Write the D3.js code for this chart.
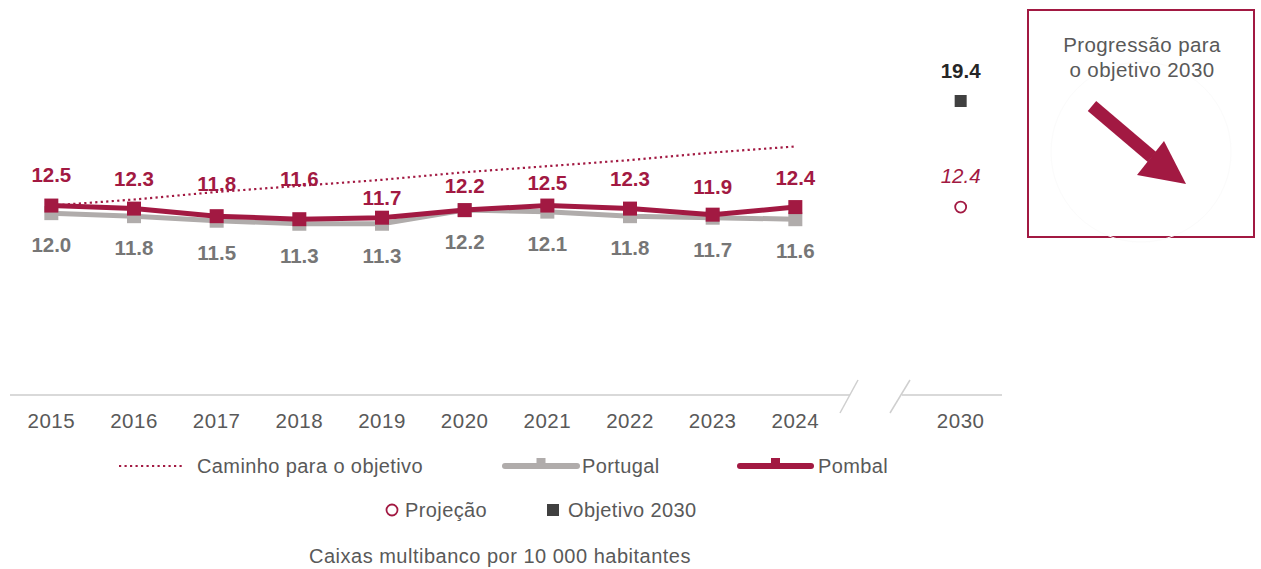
<!DOCTYPE html>
<html>
<head>
<meta charset="utf-8">
<script src="https://cdn.jsdelivr.net/npm/d3@7/dist/d3.min.js"></script>
<style>
  html, body { margin: 0; padding: 0; background: #fff; }
  svg { display: block; font-family: "Liberation Sans", Arial, sans-serif; }
</style>
</head>
<body>
<svg id="chart" width="1261" height="569"></svg>
<script>
const years = ["2015","2016","2017","2018","2019","2020","2021","2022","2023","2024"];
const slots = ["2015","2016","2017","2018","2019","2020","2021","2022","2023","2024","gap","2030"];
const pombal = [12.5, 12.3, 11.8, 11.6, 11.7, 12.2, 12.5, 12.3, 11.9, 12.4];
const portugal = [12.0, 11.8, 11.5, 11.3, 11.3, 12.2, 12.1, 11.8, 11.7, 11.6];
const pathToGoal = [12.5, 12.9, 13.4, 13.8, 14.2, 14.7, 15.1, 15.5, 16.0, 16.4];
const projection2030 = 12.4;
const goal2030 = 19.4;
const axisLabels = ["2015","2016","2017","2018","2019","2020","2021","2022","2023","2024","2030"];
const legendRow1 = ["Caminho para o objetivo", "Portugal", "Pombal"];
const legendRow2 = ["Projeção", "Objetivo 2030"];
const title = "Caixas multibanco por 10 000 habitantes";
const boxText = ["Progressão para", "o objetivo 2030"];
// label lift (px above marker) for Pombal value labels
const pombalLabelLift = [31, 30, 32, 40, 20, 24, 23, 30, 28, 29];

const CRIMSON = "#A21942", GRAY_LINE = "#B0ACAB", GRAY_TXT = "#767676", TXT = "#595959";
const FS = 20, LS = 0.4;

const svg = d3.select("#chart");
const x = d3.scaleBand().domain(slots).range([10, 1002]).padding(0);
const cx = d => x(d) + x.bandwidth() / 2;
const y = d3.scaleLinear().domain([0, goal2030]).range([395, 101]);

// axis baseline with break
const axisY = y(0);
svg.append("line").attr("x1", 10).attr("x2", 850).attr("y1", axisY).attr("y2", axisY)
  .attr("stroke", "#d9d9d9").attr("stroke-width", 2);
svg.append("line").attr("x1", 902).attr("x2", 1002).attr("y1", axisY).attr("y2", axisY)
  .attr("stroke", "#d9d9d9").attr("stroke-width", 2);
[[840, 858], [890, 910]].forEach(([a, b]) => {
  svg.append("line").attr("x1", a).attr("y1", axisY + 18).attr("x2", b).attr("y2", axisY - 15)
    .attr("stroke", "#cfcfcf").attr("stroke-width", 1.5);
});

// axis labels via d3 axis
const axisG = svg.append("g").attr("transform", `translate(0,${axisY})`)
  .call(d3.axisBottom(x).tickValues(axisLabels).tickSize(0).tickPadding(18));
axisG.select(".domain").remove();
axisG.selectAll("text").attr("font-size", 20.5).attr("letter-spacing", 0.5).attr("fill", TXT)
  .attr("font-family", "Liberation Sans, Arial, sans-serif");

// path to goal (dotted)
const line = d3.line().x((d, i) => cx(years[i])).y(d => y(d));
svg.append("path").datum(pathToGoal).attr("d", line).attr("fill", "none")
  .attr("stroke", CRIMSON).attr("stroke-width", 2.2).attr("stroke-dasharray", "2.2 3.3");

// Portugal
svg.append("path").datum(portugal).attr("d", line).attr("fill", "none")
  .attr("stroke", GRAY_LINE).attr("stroke-width", 5).attr("stroke-linejoin", "round");
svg.selectAll(".ptm").data(portugal).enter().append("rect")
  .attr("x", (d, i) => cx(years[i]) - 7).attr("y", d => y(d) - 7)
  .attr("width", 14).attr("height", 14).attr("fill", GRAY_LINE);

// Pombal
svg.append("path").datum(pombal).attr("d", line).attr("fill", "none")
  .attr("stroke", CRIMSON).attr("stroke-width", 5).attr("stroke-linejoin", "round");
svg.selectAll(".pbm").data(pombal).enter().append("rect")
  .attr("x", (d, i) => cx(years[i]) - 7).attr("y", d => y(d) - 7)
  .attr("width", 14).attr("height", 14).attr("fill", CRIMSON);

// labels
svg.selectAll(".pbl").data(pombal).enter().append("text")
  .attr("x", (d, i) => cx(years[i])).attr("y", (d, i) => y(d) - pombalLabelLift[i])
  .attr("dy", "0.35em").attr("text-anchor", "middle")
  .attr("font-size", 20.5).attr("font-weight", "bold").attr("fill", CRIMSON)
  .text(d => d.toFixed(1));
svg.selectAll(".ptl").data(portugal).enter().append("text")
  .attr("x", (d, i) => cx(years[i])).attr("y", d => y(d) + 32)
  .attr("dy", "0.35em").attr("text-anchor", "middle")
  .attr("font-size", 20.5).attr("font-weight", "bold").attr("fill", GRAY_TXT)
  .text(d => d.toFixed(1));

// 2030 points
svg.append("rect").attr("x", cx("2030") - 6).attr("y", y(goal2030) - 6)
  .attr("width", 12).attr("height", 12).attr("fill", "#404040");
svg.append("text").attr("x", cx("2030")).attr("y", y(goal2030) - 30).attr("dy", "0.35em")
  .attr("text-anchor", "middle").attr("font-size", 20.5).attr("font-weight", "bold")
  .attr("fill", "#262626").text(goal2030.toFixed(1));
svg.append("circle").attr("cx", cx("2030")).attr("cy", y(projection2030)).attr("r", 5.5)
  .attr("fill", "#fff").attr("stroke", CRIMSON).attr("stroke-width", 1.8);
svg.append("text").attr("x", cx("2030")).attr("y", y(projection2030) - 31).attr("dy", "0.35em")
  .attr("text-anchor", "middle").attr("font-size", 20.5).attr("font-style", "italic")
  .attr("fill", CRIMSON).text(projection2030.toFixed(1));

// side box
svg.append("rect").attr("x", 1028).attr("y", 10).attr("width", 226).attr("height", 227)
  .attr("fill", "#fff").attr("stroke", CRIMSON).attr("stroke-width", 2);
svg.append("circle").attr("cx", 1141).attr("cy", 152).attr("r", 90)
  .attr("fill", "none").attr("stroke", "#fbfbfb").attr("stroke-width", 1);
boxText.forEach((t, i) => {
  svg.append("text").attr("x", 1142).attr("y", 45 + i * 25).attr("dy", "0.35em")
    .attr("text-anchor", "middle").attr("font-size", 20.5).attr("letter-spacing", LS)
    .attr("fill", TXT).text(t);
});
svg.append("line").attr("x1", 1092).attr("y1", 106).attr("x2", 1152).attr("y2", 157)
  .attr("stroke", CRIMSON).attr("stroke-width", 13);
svg.append("polygon").attr("points", "1137,175 1164,141 1186,184").attr("fill", CRIMSON);

// legend row 1
const ly1 = 466;
svg.append("line").attr("x1", 119).attr("x2", 184).attr("y1", ly1).attr("y2", ly1)
  .attr("stroke", CRIMSON).attr("stroke-width", 2.2).attr("stroke-dasharray", "2.2 3.3");
svg.append("text").attr("x", 197).attr("y", ly1).attr("dy", "0.35em")
  .attr("font-size", FS).attr("letter-spacing", LS).attr("fill", TXT).text(legendRow1[0]);
[[505, 577, GRAY_LINE, 582, legendRow1[1]], [740, 811, CRIMSON, 818, legendRow1[2]]].forEach(([a, b, c, tx, t]) => {
  const m = (a + b) / 2;
  svg.append("rect").attr("x", m - 4.5).attr("y", ly1 - 8).attr("width", 9).attr("height", 9).attr("fill", c);
  svg.append("line").attr("x1", a).attr("x2", b).attr("y1", ly1).attr("y2", ly1)
    .attr("stroke", c).attr("stroke-width", 6).attr("stroke-linecap", "round");
  svg.append("text").attr("x", tx).attr("y", ly1).attr("dy", "0.35em")
    .attr("font-size", FS).attr("letter-spacing", LS).attr("fill", TXT).text(t);
});

// legend row 2
const ly2 = 510;
svg.append("circle").attr("cx", 392).attr("cy", ly2).attr("r", 5.5)
  .attr("fill", "#fff").attr("stroke", CRIMSON).attr("stroke-width", 1.8);
svg.append("text").attr("x", 405).attr("y", ly2).attr("dy", "0.35em")
  .attr("font-size", FS).attr("letter-spacing", LS).attr("fill", TXT).text(legendRow2[0]);
svg.append("rect").attr("x", 547).attr("y", ly2 - 6).attr("width", 12).attr("height", 12).attr("fill", "#404040");
svg.append("text").attr("x", 568).attr("y", ly2).attr("dy", "0.35em")
  .attr("font-size", FS).attr("letter-spacing", LS).attr("fill", TXT).text(legendRow2[1]);

// title
svg.append("text").attr("x", 500).attr("y", 556).attr("dy", "0.35em").attr("text-anchor", "middle")
  .attr("font-size", 20).attr("letter-spacing", 0.5).attr("fill", TXT).text(title);
</script>
</body>
</html>
